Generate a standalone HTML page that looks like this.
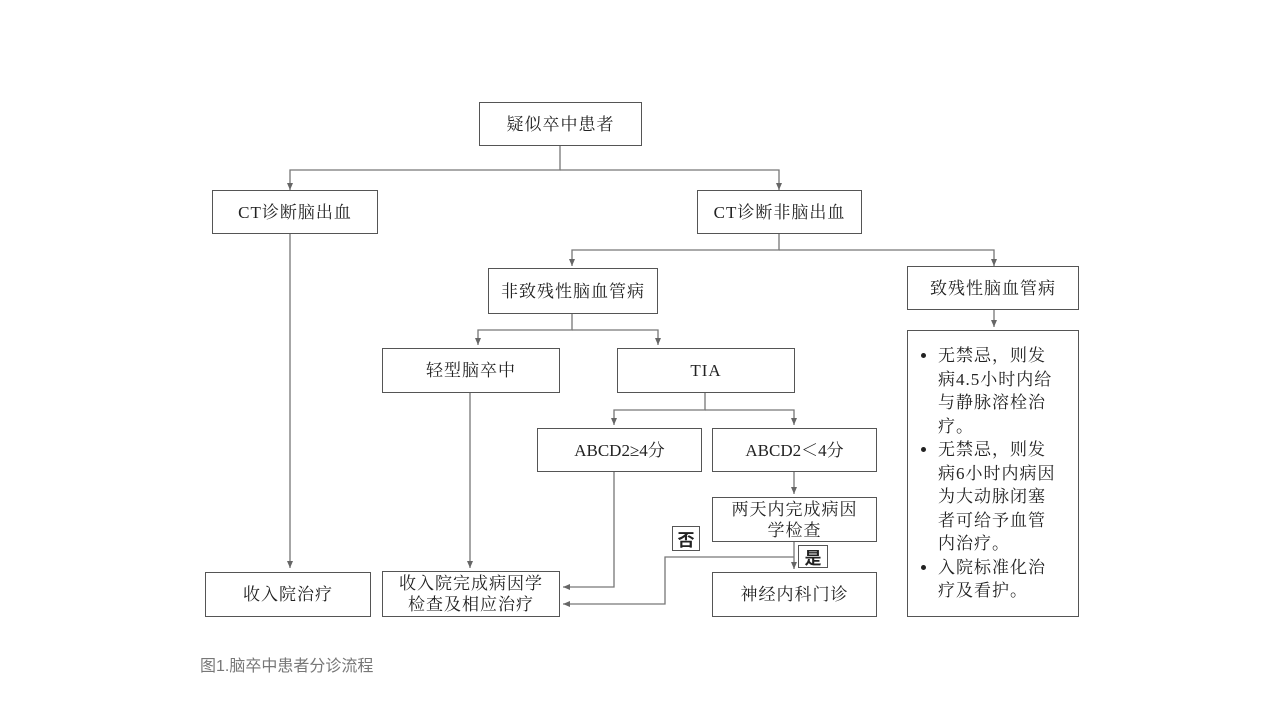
<!DOCTYPE html>
<html><head><meta charset="utf-8"><style>
body{margin:0;background:#fff;}
.w{position:relative;width:1280px;height:720px;background:#fff;font-family:"Liberation Serif","Noto Serif CJK SC",serif;color:#222;}
.b{position:absolute;border:1.3px solid #555;box-sizing:border-box;display:flex;align-items:center;justify-content:center;text-align:center;font-size:17px;line-height:21px;letter-spacing:1px;background:#fff;}
svg{position:absolute;left:0;top:0;}
.cap{position:absolute;left:200px;top:652px;font-family:"Liberation Sans","Noto Sans CJK SC",sans-serif;font-size:16px;color:#777;}
ul{margin:0;padding:0 0 0 30px;text-align:left;}
li{margin:0;}
</style></head><body><div class="w">
<svg width="1280" height="720">
<defs><marker id="a" markerWidth="8" markerHeight="8" refX="7" refY="4" orient="auto" markerUnits="userSpaceOnUse"><path d="M0,1 L7,4 L0,7z" fill="#666"/></marker></defs>
<g stroke="#777" stroke-width="1.3" fill="none">
<path d="M560 146 V170 H290 V190" marker-end="url(#a)"/>
<path d="M560 170 H779 V190" marker-end="url(#a)"/>
<path d="M290 234 V568" marker-end="url(#a)"/>
<path d="M779 234 V250 H572 V266" marker-end="url(#a)"/>
<path d="M779 250 H994 V266" marker-end="url(#a)"/>
<path d="M994 310 V327" marker-end="url(#a)"/>
<path d="M572 314 V330 H478 V345" marker-end="url(#a)"/>
<path d="M572 330 H658 V345" marker-end="url(#a)"/>
<path d="M470 393 V568" marker-end="url(#a)"/>
<path d="M705 393 V410 H614 V425" marker-end="url(#a)"/>
<path d="M705 410 H794 V425" marker-end="url(#a)"/>
<path d="M614 472 V587 H563" marker-end="url(#a)"/>
<path d="M794 472 V494" marker-end="url(#a)"/>
<path d="M794 542 V569" marker-end="url(#a)"/>
<path d="M794 557 H665 V604 H563" marker-end="url(#a)"/>
</g></svg>
<div class="b" style="left:479px;top:102px;width:163px;height:44px">疑似卒中患者</div>
<div class="b" style="left:212px;top:190px;width:166px;height:44px">CT诊断脑出血</div>
<div class="b" style="left:697px;top:190px;width:165px;height:44px">CT诊断非脑出血</div>
<div class="b" style="left:488px;top:268px;width:170px;height:46px">非致残性脑血管病</div>
<div class="b" style="left:907px;top:266px;width:172px;height:44px">致残性脑血管病</div>
<div class="b" style="left:382px;top:348px;width:178px;height:45px">轻型脑卒中</div>
<div class="b" style="left:617px;top:348px;width:178px;height:45px">TIA</div>
<div class="b" style="left:537px;top:428px;width:165px;height:44px;letter-spacing:0">ABCD2≥4分</div>
<div class="b" style="left:712px;top:428px;width:165px;height:44px;letter-spacing:0">ABCD2＜4分</div>
<div class="b" style="left:712px;top:497px;width:165px;height:45px">两天内完成病因<br>学检查</div>
<div class="b" style="left:672px;top:526px;width:28px;height:25px;font-family:'Noto Sans CJK SC',sans-serif;font-weight:bold;letter-spacing:0">否</div>
<div class="b" style="left:798px;top:545px;width:30px;height:23px;font-family:'Noto Sans CJK SC',sans-serif;font-weight:bold;letter-spacing:0">是</div>
<div class="b" style="left:205px;top:572px;width:166px;height:45px">收入院治疗</div>
<div class="b" style="left:382px;top:571px;width:178px;height:46px">收入院完成病因学<br>检查及相应治疗</div>
<div class="b" style="left:712px;top:572px;width:165px;height:45px">神经内科门诊</div>
<div class="b" style="left:907px;top:330px;width:172px;height:287px;font-size:17px;line-height:23.5px;justify-content:flex-start">
<ul><li>无禁忌，则发<br>病4.5小时内给<br>与静脉溶栓治<br>疗。</li><li>无禁忌，则发<br>病6小时内病因<br>为大动脉闭塞<br>者可给予血管<br>内治疗。</li><li>入院标准化治<br>疗及看护。</li></ul></div>
<div class="cap">图1.脑卒中患者分诊流程</div>
</div></body></html>
